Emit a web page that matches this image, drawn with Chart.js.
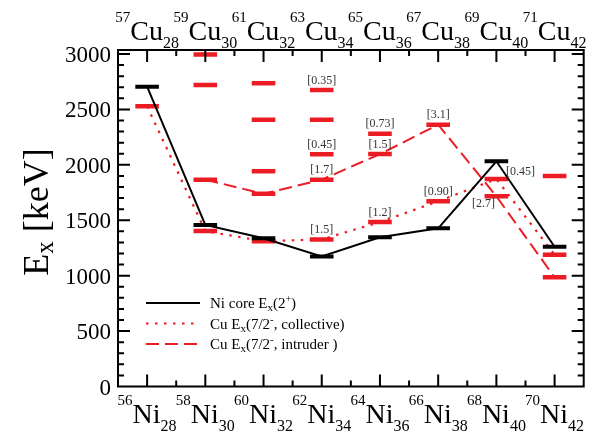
<!DOCTYPE html>
<html><head><meta charset="utf-8">
<script src="https://cdn.jsdelivr.net/npm/chart.js@4.4.1/dist/chart.umd.min.js"></script>
<style>html,body{margin:0;padding:0;background:#fff;}#wrap{width:600px;height:432px;}</style>
</head><body><div id="wrap"><canvas id="c" width="600" height="432"></canvas></div>
<script>
// ---- data ----
const neutronNumbers = [28, 30, 32, 34, 36, 38, 40, 42];
const niMassNumbers = [56, 58, 60, 62, 64, 66, 68, 70];
const cuMassNumbers = [57, 59, 61, 63, 65, 67, 69, 71];
const niCore2Plus = [2705, 1457, 1337, 1174, 1346, 1427, 2032, 1261];
const cuCollective72 = [2528, 1402, 1311, 1327, 1484, 1671, 1872, 1189];
const cuIntruderN = [30, 32, 34, 36, 38, 40, 42];
const cuIntruder72 = [1866, 1739, 1866, 2097, 2362, 1716, 985];
const otherLevelN = [30, 30, 32, 32, 32, 34, 34, 34, 36, 42];
const otherLevelE = [2995, 2720, 2735, 2407, 1941, 2675, 2407, 2095, 2281, 1899];
const noteN = [34, 34, 34, 34, 36, 36, 36, 38, 38, 40, 40];
const noteE = [2675, 2095, 1866, 1327, 2281, 2097, 1484, 2362, 1671, 1872, 1716];
const noteText = ['[0.35]', '[0.45]', '[1.7]', '[1.5]', '[0.73]', '[1.5]', '[1.2]', '[3.1]', '[0.90]', '[0.45]', '[2.7]'];
const noteAnchor = ['above', 'above', 'above', 'above', 'above', 'above', 'above', 'above', 'above', 'right', 'belowLeft'];
const yTickValues = [0, 500, 1000, 1500, 2000, 2500, 3000];
const legendLabels = ['Ni core', 'Cu collective', 'Cu intruder'];

// ---- styles ----
const RED = '#ec1c24';
const FONT = "'Liberation Serif', serif";
Chart.defaults.font.family = FONT;
const pts = (xs, ys) => xs.map((x, i) => ({ x: x, y: ys[i] }));
const barStyle = (color, w) => ({ pointStyle: 'line', pointRadius: 11.8, pointHoverRadius: 11.8, pointBorderWidth: w, pointHoverBorderWidth: w, pointBorderColor: color, pointBackgroundColor: color });

const datasets = [
  Object.assign({ label: legendLabels[0], data: pts(neutronNumbers, niCore2Plus), borderColor: '#000', borderWidth: 2, tension: 0, legendDash: [] }, barStyle('#000', 4)),
  Object.assign({ label: legendLabels[1], data: pts(neutronNumbers, cuCollective72), borderColor: RED, borderWidth: 2.2, borderDash: [2.5, 6.5], tension: 0, legendDash: [2.5, 6.5] }, barStyle(RED, 4.5)),
  Object.assign({ label: legendLabels[2], data: pts(cuIntruderN, cuIntruder72), borderColor: RED, borderWidth: 2, borderDash: [13, 6], tension: 0, legendDash: [13, 6] }, barStyle(RED, 4.5)),
  Object.assign({ label: 'levels', data: pts(otherLevelN, otherLevelE), showLine: false, borderColor: RED }, barStyle(RED, 4.5))
];

function richWidth(ctx, parts) {
  let w = 0;
  for (const p of parts) { ctx.font = p.size + 'px ' + FONT; w += ctx.measureText(p.t).width; }
  return w;
}
function drawRich(ctx, parts, x, y, align) {
  const w = richWidth(ctx, parts);
  let cx = align === 'center' ? x - w / 2 : (align === 'right' ? x - w : x);
  ctx.textAlign = 'left';
  ctx.textBaseline = 'alphabetic';
  for (const p of parts) {
    ctx.font = p.size + 'px ' + FONT;
    ctx.fillText(p.t, cx, y + (p.dy || 0));
    cx += ctx.measureText(p.t).width;
  }
}

const decor = {
  id: 'decor',
  afterDraw(chart) {
    const ctx = chart.ctx;
    const a = chart.chartArea;
    const xs = chart.scales.x, ys = chart.scales.y;
    ctx.save();
    ctx.strokeStyle = '#000';
    ctx.fillStyle = '#000';
    ctx.lineWidth = 2;
    ctx.setLineDash([]);
    ctx.strokeRect(a.left, a.top, a.right - a.left, a.bottom - a.top);
    // x ticks (inside, top and bottom)
    for (let n = Math.ceil(xs.min) + 1; n < xs.max; n++) {
      const px = xs.getPixelForValue(n);
      const len = n % 2 === 0 ? 12 : 6;
      ctx.beginPath();
      ctx.moveTo(px, a.bottom); ctx.lineTo(px, a.bottom - len);
      ctx.moveTo(px, a.top); ctx.lineTo(px, a.top + len);
      ctx.stroke();
    }
    // y ticks (inside, left and right)
    for (let v = 100; v <= 3000; v += 100) {
      const py = ys.getPixelForValue(v);
      const len = v % 500 === 0 ? 12 : 6;
      ctx.beginPath();
      ctx.moveTo(a.left, py); ctx.lineTo(a.left + len, py);
      ctx.moveTo(a.right, py); ctx.lineTo(a.right - len, py);
      ctx.stroke();
    }
    // y tick labels
    ys.ticks.forEach(t => {
      const py = ys.getPixelForValue(t.value);
      drawRich(ctx, [{ t: String(t.value), size: 23 }], a.left - 7, py + 8, 'right');
    });
    // category labels
    neutronNumbers.forEach((n, i) => {
      const px = xs.getPixelForValue(n);
      drawRich(ctx, [{ t: String(niMassNumbers[i]), size: 15, dy: -18 }, { t: 'Ni', size: 28 }, { t: String(n), size: 16, dy: 8 }], px, 423, 'center');
      drawRich(ctx, [{ t: String(cuMassNumbers[i]), size: 15, dy: -18 }, { t: 'Cu', size: 28 }, { t: String(n), size: 16, dy: 8 }], px, 40, 'center');
    });
    // y title
    ctx.save();
    ctx.translate(48, 212);
    ctx.rotate(-Math.PI / 2);
    drawRich(ctx, [{ t: 'E', size: 36 }, { t: 'x', size: 25, dy: 5 }, { t: ' [keV]', size: 36 }], 0, 0, 'center');
    ctx.restore();
    // legend
    const legendText = [
      [{ t: 'Ni core E', size: 15 }, { t: 'x', size: 11, dy: 3 }, { t: '(2', size: 15 }, { t: '+', size: 10, dy: -6 }, { t: ')', size: 15 }],
      [{ t: 'Cu E', size: 15 }, { t: 'x', size: 11, dy: 3 }, { t: '(7/2', size: 15 }, { t: '-', size: 11, dy: -6 }, { t: ', collective)', size: 15 }],
      [{ t: 'Cu E', size: 15 }, { t: 'x', size: 11, dy: 3 }, { t: '(7/2', size: 15 }, { t: '-', size: 11, dy: -6 }, { t: ', intruder )', size: 15 }]
    ];
    const rowY = [303, 323.5, 344];
    for (let k = 0; k < 3; k++) {
      const ds = chart.data.datasets[k];
      ctx.strokeStyle = ds.borderColor;
      ctx.lineWidth = ds.borderWidth;
      ctx.setLineDash(ds.legendDash);
      ctx.beginPath(); ctx.moveTo(146, rowY[k]); ctx.lineTo(200, rowY[k]); ctx.stroke();
      ctx.setLineDash([]);
      ctx.fillStyle = '#000';
      drawRich(ctx, legendText[k], 210, rowY[k] + 5, 'left');
    }
    // notes
    ctx.fillStyle = '#333';
    ctx.font = '12px ' + FONT;
    ctx.textAlign = 'center';
    ctx.textBaseline = 'middle';
    const off = { above: [0, -9.5], right: [24, -7], belowLeft: [-13, 8] };
    noteText.forEach((t, i) => {
      const px = xs.getPixelForValue(noteN[i]);
      const py = ys.getPixelForValue(noteE[i]);
      const o = off[noteAnchor[i]];
      ctx.fillText(t, px + o[0], py + o[1]);
    });
    ctx.restore();
  }
};

new Chart(document.getElementById('c'), {
  type: 'line',
  data: { datasets: datasets },
  options: {
    responsive: false,
    animation: false,
    devicePixelRatio: 1,
    layout: { padding: { left: 0, right: 9, top: 50, bottom: 0 } },
    plugins: { legend: { display: false }, tooltip: { enabled: false } },
    events: [],
    scales: {
      x: {
        type: 'linear', min: 27, max: 43,
        ticks: { display: false },
        grid: { display: false, drawTicks: false },
        border: { display: false },
        afterFit(s) { s.height = 45.5; }
      },
      y: {
        min: 0, max: 3036,
        afterBuildTicks(s) { s.ticks = yTickValues.map(v => ({ value: v })); },
        ticks: { display: false },
        grid: { display: false, drawTicks: false },
        border: { display: false },
        afterFit(s) { s.width = 118; }
      }
    }
  },
  plugins: [decor]
});
</script>
</body></html>
